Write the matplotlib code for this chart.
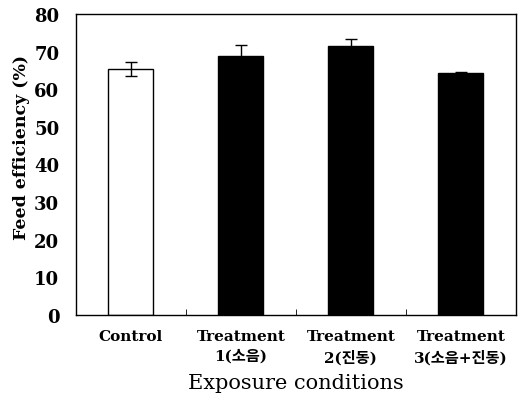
import matplotlib.pyplot as plt
import numpy as np

categories = ['Control', 'Treatment\n1(소음)', 'Treatment\n2(진동)', 'Treatment\n3(소음+진동)']
values = [65.4, 68.9, 71.4, 64.3]
errors = [1.8, 2.9, 1.9, 0.2]
colors = ['white', 'black', 'black', 'black']

fam = ['DejaVu Serif', 'Noto Sans CJK KR']
plt.rcParams['font.family'] = fam

fig = plt.figure(figsize=(5.2, 4.02), dpi=100)
ax = fig.add_axes([0.146, 0.214, 0.846, 0.749])

x = np.arange(len(categories))
ax.bar(x, values, width=0.41, color=colors, edgecolor='black', linewidth=1.0,
       yerr=errors, capsize=4, error_kw={'elinewidth': 1, 'capthick': 1})

ax.set_xlim(-0.5, 3.5)
ax.set_ylim(0, 80)
ax.set_yticks(range(0, 81, 10))
ax.set_yticklabels([str(v) for v in range(0, 81, 10)], fontsize=13, fontweight='bold')
ax.set_xticks(x)
ax.set_xticklabels(categories, fontsize=11, fontweight='bold', linespacing=1.5)
ax.tick_params(axis='x', length=0, pad=10)
ax.set_xticks([0.5, 1.5, 2.5], minor=True)
ax.tick_params(axis='x', which='minor', direction='in', length=4)
ax.tick_params(axis='y', direction='in', length=0, pad=12)

ax.set_ylabel('Feed efficiency (%)', fontsize=12.5, fontweight='bold')
ax.yaxis.set_label_coords(-0.105, 0.56)
ax.set_xlabel('Exposure conditions', fontsize=15, labelpad=6)

for s in ax.spines.values():
    s.set_linewidth(1.0)

plt.savefig('out.png', dpi=100)
